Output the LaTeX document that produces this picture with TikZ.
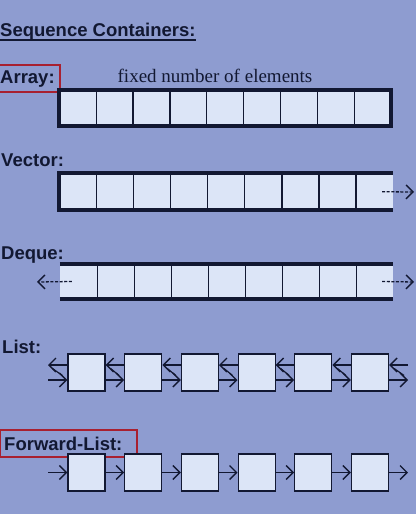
\documentclass[tikz,border=0pt]{standalone}
\usepackage{fontspec}
\setmainfont{Liberation Serif}
\setsansfont{Liberation Sans}
\usetikzlibrary{arrows.meta}
\definecolor{bgc}{RGB}{142,156,208}
\definecolor{cellc}{RGB}{220,229,247}
\definecolor{ink}{RGB}{18,24,50}
\definecolor{redc}{RGB}{168,32,48}
\tikzset{
  lbl/.style={font=\sffamily\bfseries\fontsize{18.5}{21}\selectfont, text=ink, inner sep=0pt, anchor=base west},
  cellfill/.style={fill=cellc, inner sep=0pt, minimum height=#1, minimum width=36.9pt},
  divider/.style={ink, line width=1.2pt},
  bar/.style={ink, line width=4pt},
  lbox/.style={draw=ink, fill=cellc, line width=1.2pt, inner sep=0pt, minimum width=37pt, minimum height=37pt},
  dasharrow/.style={ink, line width=1.3pt, dash pattern=on 3pt off 1.6pt, -{Straight Barb[length=7pt,width=14pt,line width=1.4pt]}},
  linkarrow/.style={ink, line width=1.3pt, -{Straight Barb[length=7pt,width=14pt,line width=1.4pt]}},
  redbox/.style={draw=redc, line width=2.5pt}
}
\begin{document}
\begin{tikzpicture}[x=1pt,y=-1pt]
\fill[bgc] (0,0) rectangle (416,514);
\useasboundingbox (0,0) rectangle (416,514);

% title
\node[lbl] (title) at (0,36) {Sequence Containers:};
\draw[ink, line width=1.1pt] ([yshift=-4pt]title.base west) -- ([yshift=-4pt]title.base east);

% Array
\node[lbl] (arrlbl) at (0,83.5) {Array:};
\draw[redbox] (-2,65) rectangle (60,92);
\node[font=\fontsize{19}{22}\selectfont, text=ink, inner sep=0pt, anchor=base] (arrtxt) at (215,82) {fixed number of elements};
\foreach \i in {1,...,9} {
  \node[cellfill=36pt] (a\i) at ({59+36.9*(\i-0.5)},108) {};
}
\foreach \i in {1,...,8} {
  \draw[divider] (a\i.north east) -- (a\i.south east);
}
\draw[bar] (a1.north west) rectangle (a9.south east);

% Vector
\node[lbl] (veclbl) at (1,166) {Vector:};
\foreach \i in {1,...,9} {
  \node[cellfill=36.5pt] (v\i) at ({59.5+37.05*(\i-0.5)},191.75) {};
}
\foreach \i in {1,...,8} {
  \draw[divider] (v\i.north east) -- (v\i.south east);
}
\draw[bar] (v9.north east) -- (v1.north west) -- (v1.south west) -- (v9.south east);
\coordinate (vend) at (414,192);
\draw[dasharrow] ([xshift=-11pt]v9.east) -- (vend);

% Deque
\node[lbl] (deqlbl) at (1,259) {Deque:};
\foreach \i in {1,...,9} {
  \node[cellfill=35.5pt] (d\i) at ({60+37*(\i-0.5)},281.5) {};
}
\foreach \i in {1,...,8} {
  \draw[divider] (d\i.north east) -- (d\i.south east);
}
\draw[bar] (d1.north west) -- (d9.north east);
\draw[bar] (d1.south west) -- (d9.south east);
\coordinate (dl) at (37,282);
\coordinate (dr) at (414,282);
\draw[dasharrow] ([xshift=12pt]d1.west) -- (dl);
\draw[dasharrow] ([xshift=-11pt]d9.east) -- (dr);

% List
\node[lbl] (listlbl) at (2,353) {List:};
\foreach \i in {1,...,6} {
  \node[lbox] (l\i) at ({86.5+56.7*(\i-1)},372.5) {};
}
\coordinate (lin) at (48,372.5);
\coordinate (lout) at (408,372.5);
\draw[linkarrow] ([yshift=-7.5pt]lin) -- ([yshift=-7.5pt]l1.west);
\draw[linkarrow] ([yshift=7.5pt]l1.west) -- ([yshift=7.5pt]lin);
\draw[ink, line width=1.2pt] ([xshift=-5pt,yshift=-3pt]l1.west) -- ([xshift=-15pt,yshift=4pt]l1.west);
\foreach \i [evaluate=\i as \j using int(\i+1)] in {1,...,5} {
  \draw[linkarrow] ([yshift=-7.5pt]l\i.east) -- ([yshift=-7.5pt]l\j.west);
  \draw[linkarrow] ([yshift=7.5pt]l\j.west) -- ([yshift=7.5pt]l\i.east);
  \draw[ink, line width=1.2pt] ([xshift=-5pt,yshift=-3pt]l\j.west) -- ([xshift=5pt,yshift=4pt]l\i.east);
}
\draw[linkarrow] ([yshift=-7.5pt]l6.east) -- ([yshift=-7.5pt]lout);
\draw[linkarrow] ([yshift=7.5pt]lout) -- ([yshift=7.5pt]l6.east);
\draw[ink, line width=1.2pt] ([xshift=15pt,yshift=-3pt]l6.east) -- ([xshift=5pt,yshift=4pt]l6.east);

% Forward list
\node[lbl] (fwdlbl) at (4,450) {Forward-List:};
\draw[redbox] (0,430) rectangle (137,457);
\foreach \i in {1,...,6} {
  \node[lbox] (f\i) at ({86.5+56.7*(\i-1)},472.5) {};
}
\coordinate (fin) at (48,472.5);
\coordinate (fout) at (408,472.5);
\draw[linkarrow] (fin) -- (f1.west);
\foreach \i [evaluate=\i as \j using int(\i+1)] in {1,...,5} {
  \draw[linkarrow] (f\i.east) -- (f\j.west);
}
\draw[linkarrow] (f6.east) -- (fout);
\end{tikzpicture}
\end{document}
